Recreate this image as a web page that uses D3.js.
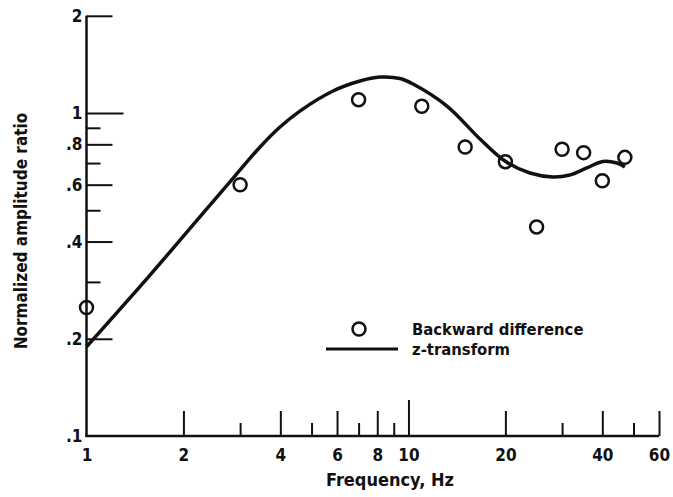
<!DOCTYPE html>
<html>
<head>
<meta charset="utf-8">
<script src="https://cdn.jsdelivr.net/npm/d3@7"></script>
<style>
  body { margin: 0; background: #fff; }
  text { font-family: "DejaVu Sans Condensed", "Liberation Sans Narrow", sans-serif; fill: #111; }
</style>
</head>
<body>
<script>
// chart data
let freqPoints = [1, 3, 7, 11, 15, 20, 25, 30, 35, 40, 47];
let ampPoints = [0.25, 0.6, 1.1, 1.05, 0.785, 0.707, 0.444, 0.772, 0.754, 0.617, 0.729];

let freqCurve = [1, 1.575, 2.25, 2.89, 3.46, 3.99, 4.6, 5.83, 7.07, 8.15, 9.41, 10.33, 13.17, 16.68, 19.94, 23.84, 28.1, 31.7, 35.8, 40.2, 44.4, 47];
let ampCurve = [0.189, 0.315, 0.477, 0.638, 0.785, 0.905, 1.014, 1.17, 1.256, 1.292, 1.279, 1.23, 1.051, 0.831, 0.71, 0.652, 0.634, 0.643, 0.676, 0.708, 0.7, 0.681];

let xMajor = [2, 4, 6, 8, 20, 40, 60];
let xMinor = [3, 5, 7, 9, 30, 50];
let xLabels = [1, 2, 4, 6, 8, 10, 20, 40, 60];
let yMajor = [0.2, 0.4, 0.6, 0.8, 2];
let yMinor = [0.3, 0.5, 0.7, 0.9];
let yLabels = [0.1, 0.2, 0.4, 0.6, 0.8, 1, 2];

let legendNames = ['Backward difference', 'z-transform'];

// svg area
let svgWidth = 673;
let svgHeight = 497;

let svg = d3.select('body')
  .append('svg')
  .attr('width', svgWidth)
  .attr('height', svgHeight);

// log scales
let xScale = d3.scaleLog()
  .domain([1, 60])
  .range([86.5, 659]);
let yScale = d3.scaleLog()
  .domain([0.1, 2])
  .range([436, 15.8]);

// tick length by value
function xTickLen(d) {
  if (d === 10) return 36;
  if (xMajor.includes(d)) return 25;
  if (xMinor.includes(d)) return 13;
  return 0;
}
function yTickLen(d) {
  if (d === 1) return 37;
  if (yMajor.includes(d)) return 26;
  if (yMinor.includes(d)) return 14;
  return 0;
}

// x axis (ticks pointing up)
let xAxis = d3.axisBottom(xScale)
  .tickValues([1].concat(xMajor, xMinor, [10]))
  .tickSizeInner(-10)
  .tickSizeOuter(0)
  .tickPadding(13)
  .tickFormat(d => xLabels.includes(d) ? d : '');

let xg = svg.append('g')
  .attr('transform', `translate(0, ${yScale(0.1)})`)
  .call(xAxis);
xg.select('.domain')
  .attr('stroke', '#111')
  .attr('stroke-width', 2.5)
  .attr('d', `M${xScale(1) - 1},0H${xScale(60)}`);
xg.selectAll('.tick line')
  .attr('y2', d => -xTickLen(d))
  .attr('stroke', '#111')
  .attr('stroke-width', 2);
xg.selectAll('.tick text')
  .style('font-size', '17px')
  .style('font-weight', 'bold')
  .attr('fill', '#111');

// y axis (ticks pointing right)
let yAxis = d3.axisLeft(yScale)
  .tickValues([0.1, 1].concat(yMajor, yMinor))
  .tickSizeInner(-10)
  .tickSizeOuter(0)
  .tickPadding(4)
  .tickFormat(d => yLabels.includes(d) ? (d >= 1 ? d : '.' + Math.round(d * 10)) : '');

let yg = svg.append('g')
  .attr('transform', `translate(${xScale(1)}, 0)`)
  .call(yAxis);
yg.select('.domain')
  .attr('stroke', '#111')
  .attr('stroke-width', 2.5)
  .attr('d', `M0,${yScale(2)}V${yScale(0.1) + 1}`);
yg.selectAll('.tick line')
  .attr('x2', d => yTickLen(d))
  .attr('stroke', '#111')
  .attr('stroke-width', 2);
yg.selectAll('.tick text')
  .style('font-size', '17px')
  .style('font-weight', 'bold')
  .attr('fill', '#111');

// z-transform curve
let curveData = freqCurve.map((f, i) => ({ f: f, a: ampCurve[i] }));
let createLine = d3.line()
  .x(d => xScale(d.f))
  .y(d => yScale(d.a))
  .curve(d3.curveCatmullRom.alpha(0.5));

svg.append('path')
  .attr('d', createLine(curveData))
  .attr('fill', 'none')
  .attr('stroke', '#111')
  .attr('stroke-width', 3.5);

// backward difference circles
svg.selectAll('circle.pt')
  .data(freqPoints)
  .enter()
  .append('circle')
  .classed('pt', true)
  .attr('cx', d => xScale(d))
  .attr('cy', (d, i) => yScale(ampPoints[i]))
  .attr('r', 6.5)
  .attr('fill', 'none')
  .attr('stroke', '#111')
  .attr('stroke-width', 2.5);

// legend
let legend = svg.append('g')
  .attr('transform', 'translate(326, 329)');
legend.append('circle')
  .attr('cx', 33)
  .attr('cy', 0)
  .attr('r', 6.5)
  .attr('fill', 'none')
  .attr('stroke', '#111')
  .attr('stroke-width', 2.5);
legend.append('line')
  .attr('x1', 0)
  .attr('x2', 72)
  .attr('y1', 20)
  .attr('y2', 20)
  .attr('stroke', '#111')
  .attr('stroke-width', 3);
legend.selectAll('text')
  .data(legendNames)
  .enter()
  .append('text')
  .attr('x', 86)
  .attr('y', (d, i) => i * 20 + 6)
  .style('font-size', '16.5px')
  .style('font-weight', 'bold')
  .text(d => d);

// axis titles
svg.append('text')
  .attr('x', 390)
  .attr('y', 486)
  .attr('text-anchor', 'middle')
  .style('font-size', '18px')
  .style('font-weight', 'bold')
  .text('Frequency, Hz');

svg.append('text')
  .attr('transform', 'translate(27, 231) rotate(-90)')
  .attr('text-anchor', 'middle')
  .style('font-size', '17px')
  .style('font-weight', 'bold')
  .text('Normalized amplitude ratio');
</script>
</body>
</html>
